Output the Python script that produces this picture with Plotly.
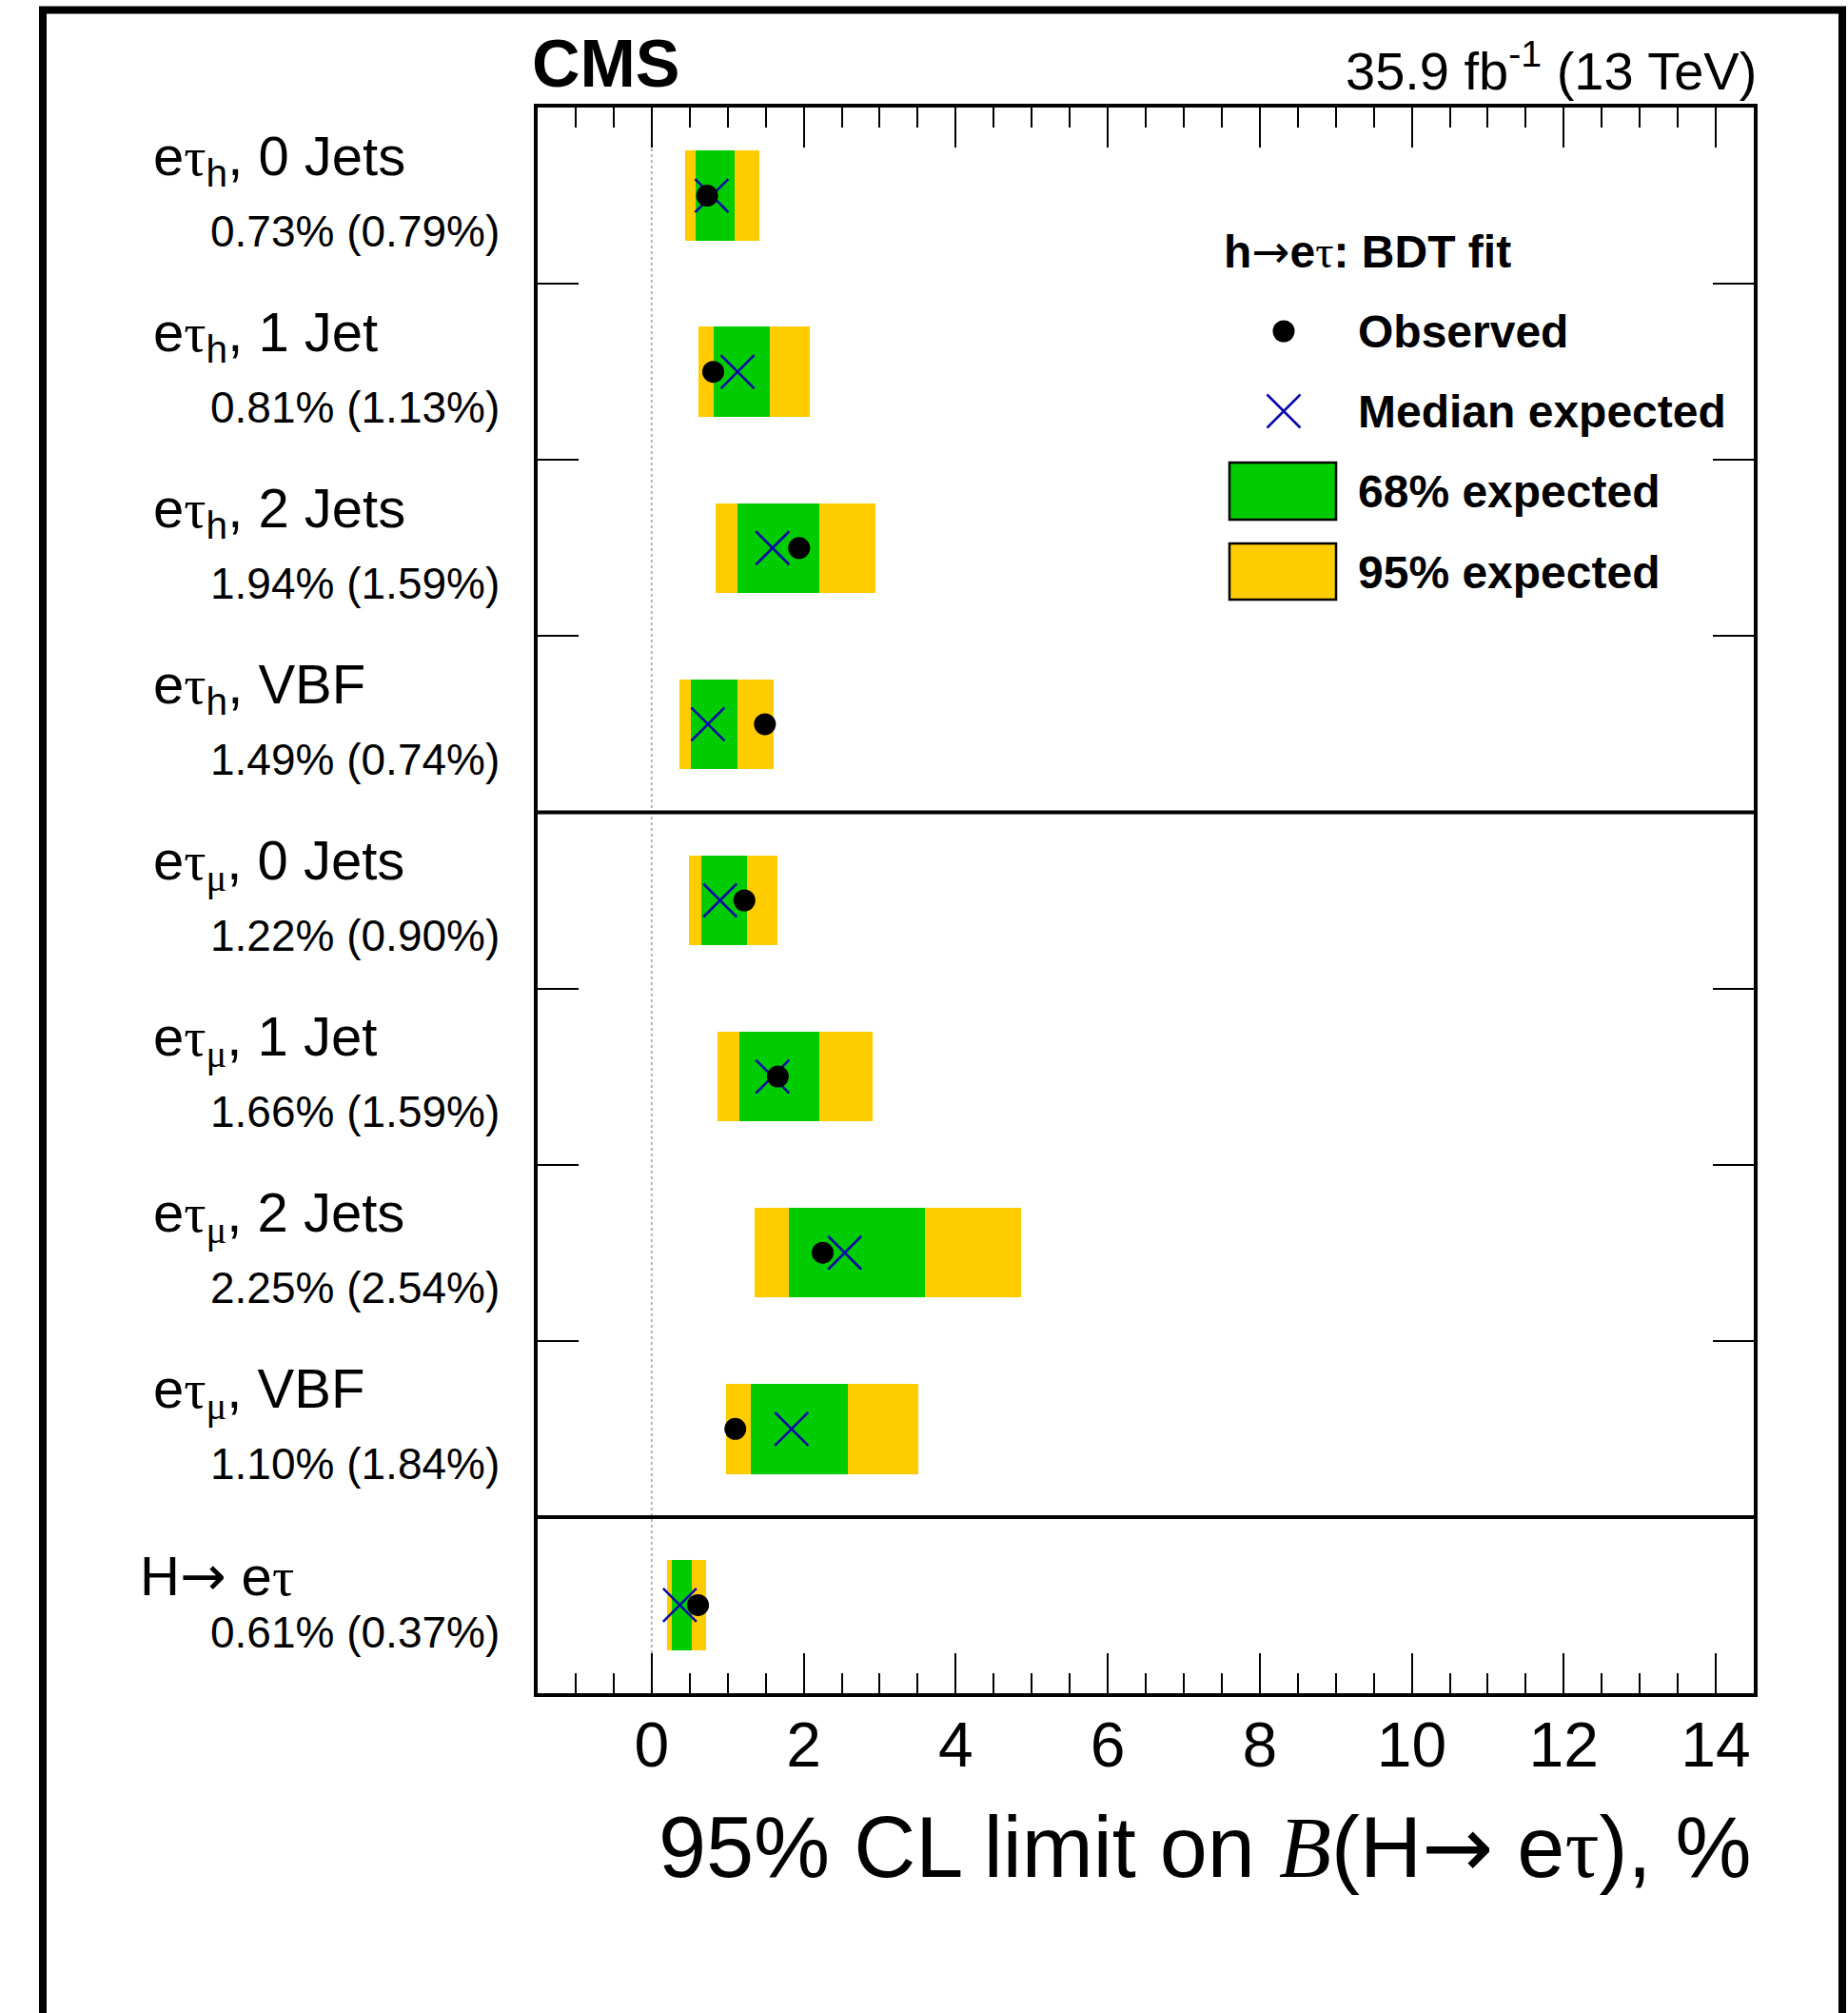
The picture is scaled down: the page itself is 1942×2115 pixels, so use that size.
import plotly.graph_objects as go

W, H = 1942, 2115

# ---- data: 95% CL upper limits on B(H -> e tau), in % ----
channels = ["h", "h", "h", "h", "μ", "μ", "μ", "μ", None]
jet_bins = ["0 Jets", "1 Jet", "2 Jets", "VBF", "0 Jets", "1 Jet", "2 Jets", "VBF", None]
observed = [0.73, 0.81, 1.94, 1.49, 1.22, 1.66, 2.25, 1.10, 0.61]
expected = [0.79, 1.13, 1.59, 0.74, 0.90, 1.59, 2.54, 1.84, 0.37]
band68_lo = [0.58, 0.81, 1.13, 0.51, 0.65, 1.15, 1.81, 1.31, 0.26]
band68_hi = [1.09, 1.56, 2.21, 1.13, 1.25, 2.21, 3.59, 2.58, 0.53]
band95_lo = [0.44, 0.62, 0.84, 0.37, 0.49, 0.87, 1.35, 0.98, 0.20]
band95_hi = [1.42, 2.08, 2.94, 1.61, 1.65, 2.91, 4.86, 3.51, 0.71]
group_sizes = [4, 4, 1]
x_ticks = [0, 2, 4, 6, 8, 10, 12, 14]

n = len(observed)
rows = [i + 0.5 for i in range(n)]

FONT = "Liberation Sans"
SERIF = "Liberation Serif"
GREEN = "#00CC00"
YELLOW = "#FFCC00"
BLUE = "#0A0AA8"


def greek(ch):
    return f"<span style='font-family:{SERIF}'>{ch}</span>"


ARROW = "<span style='font-family:DejaVu Sans'>→</span>"


def row_name(ch, jets):
    if ch is None:
        return "H" + ARROW + " e" + greek("τ")
    return "e" + greek("τ") + f"<sub>{greek(ch) if ch == 'μ' else ch}</sub>, {jets}"


fig = go.Figure()

# expected bands as horizontal bars
fig.add_trace(go.Bar(
    orientation="h", y=rows,
    base=band95_lo, x=[h - l for l, h in zip(band95_lo, band95_hi)],
    width=0.51, marker=dict(color=YELLOW, line=dict(width=0)),
    xaxis="x", yaxis="y",
))
fig.add_trace(go.Bar(
    orientation="h", y=rows,
    base=band68_lo, x=[h - l for l, h in zip(band68_lo, band68_hi)],
    width=0.51, marker=dict(color=GREEN, line=dict(width=0)),
    xaxis="x", yaxis="y",
))
# median expected
fig.add_trace(go.Scatter(
    x=expected, y=rows, mode="markers",
    marker=dict(symbol="x-thin", size=35, line=dict(width=2.6, color=BLUE)),
    xaxis="x", yaxis="y",
))
# observed
fig.add_trace(go.Scatter(
    x=observed, y=rows, mode="markers",
    marker=dict(symbol="circle", size=23, color="black"),
    xaxis="x", yaxis="y",
))

# legend glyphs on a full-page pixel overlay
fig.add_trace(go.Scatter(
    x=[1349], y=[348], mode="markers",
    marker=dict(symbol="circle", size=23, color="black"),
    xaxis="x2", yaxis="y2",
))
fig.add_trace(go.Scatter(
    x=[1349], y=[432], mode="markers",
    marker=dict(symbol="x-thin", size=35, line=dict(width=2.6, color=BLUE)),
    xaxis="x2", yaxis="y2",
))

shapes = []
# dotted zero line
shapes.append(dict(type="line", xref="x", yref="y domain", x0=0, x1=0, y0=0, y1=1,
                   line=dict(color="#b4b4b4", width=2, dash="dot"), layer="below"))
# group separators
edge = 0
for g in group_sizes[:-1]:
    edge += g
    shapes.append(dict(type="line", xref="x domain", yref="y", x0=0, x1=1, y0=edge, y1=edge,
                       line=dict(color="black", width=4)))
# legend boxes
shapes.append(dict(type="rect", xref="x2", yref="y2", x0=1292, x1=1404, y0=486, y1=546,
                   fillcolor=GREEN, line=dict(color="black", width=2.5)))
shapes.append(dict(type="rect", xref="x2", yref="y2", x0=1292, x1=1404, y0=571, y1=630,
                   fillcolor=YELLOW, line=dict(color="black", width=2.5)))
# canvas frame
shapes.append(dict(type="rect", xref="x2", yref="y2", x0=45, x1=1936, y0=10.5, y1=2300,
                   line=dict(color="black", width=8)))

ann = []
# row labels
for i, (ch, jb, o, e) in enumerate(zip(channels, jet_bins, observed, expected)):
    last = ch is None
    ann.append(dict(xref="x2", yref="y", x=145 if last else 159, y=rows[i],
                    xanchor="left", yanchor="middle", yshift=30 if last else 38,
                    text=row_name(ch, jb), showarrow=False,
                    font=dict(family=FONT, size=58, color="black")))
    ann.append(dict(xref="x2", yref="y", x=527, y=rows[i],
                    xanchor="right", yanchor="middle", yshift=-29 if last else -37,
                    text=f"{o:.2f}% ({e:.2f}%)", showarrow=False,
                    font=dict(family=FONT, size=46, color="black")))

# header
ann.append(dict(xref="x2", yref="y2", x=557, y=67, xanchor="left", yanchor="middle",
                text="<b>CMS</b>", showarrow=False,
                font=dict(family=FONT, size=70, color="black")))
ann.append(dict(xref="x2", yref="y2", x=1848, y=70, xanchor="right", yanchor="middle",
                text="35.9 fb<sup>-1</sup> (13 TeV)", showarrow=False,
                font=dict(family=FONT, size=56, color="black")))

# legend texts
ann.append(dict(xref="x2", yref="y2", x=1284, y=264, xanchor="left", yanchor="middle",
                text="<b>h</b>" + ARROW + "<b>e</b>" + greek("τ") + "<b>: BDT fit</b>",
                showarrow=False, font=dict(family=FONT, size=48, color="black")))
for label, yc in [("Observed", 348), ("Median expected", 432),
                  ("68% expected", 516), ("95% expected", 601)]:
    ann.append(dict(xref="x2", yref="y2", x=1425, y=yc, xanchor="left", yanchor="middle",
                    text=f"<b>{label}</b>", showarrow=False,
                    font=dict(family=FONT, size=48, color="black")))

# x-axis title
ann.append(dict(xref="x2", yref="y2", x=1843, y=1940, xanchor="right", yanchor="middle",
                text="95% CL limit on <i><span style='font-family:" + SERIF + "'>B</span></i>(H"
                     + ARROW + " e" + greek("τ") + "), %",
                showarrow=False, font=dict(family=FONT, size=90, color="black")))

x0p, x1p = 565 / W, 1843 / W
y0p, y1p = 1 - 1779 / H, 1 - 113 / H

fig.update_layout(
    width=W, height=H,
    margin=dict(l=0, r=0, t=0, b=0, pad=0),
    paper_bgcolor="white", plot_bgcolor="rgba(0,0,0,0)",
    showlegend=False, barmode="overlay", bargap=0,
    font=dict(family=FONT, color="black"),
    xaxis=dict(
        domain=[x0p, x1p], range=[-1.5, 14.5], anchor="y",
        tickmode="array", tickvals=x_ticks, ticktext=[str(t) for t in x_ticks],
        ticks="inside", ticklen=42, tickwidth=2, tickcolor="black",
        minor=dict(dtick=0.5, tick0=0, ticks="inside", ticklen=21, tickwidth=2, tickcolor="black"),
        showline=True, linewidth=4, linecolor="black", mirror="ticks",
        showgrid=False, zeroline=False, ticklabelstandoff=-6,
        tickfont=dict(family=FONT, size=66, color="black"),
    ),
    yaxis=dict(
        domain=[y0p, y1p], range=[n, 0], anchor="x",
        tickmode="array", tickvals=[1, 2, 3, 5, 6, 7], showticklabels=False,
        ticks="inside", ticklen=43, tickwidth=2, tickcolor="black",
        showline=True, linewidth=4, linecolor="black", mirror="ticks",
        showgrid=False, zeroline=False,
    ),
    xaxis2=dict(domain=[0, 1], range=[0, W], anchor="y2", visible=False, fixedrange=True),
    yaxis2=dict(domain=[0, 1], range=[H, 0], anchor="x2", visible=False, fixedrange=True),
    shapes=shapes, annotations=ann,
)

fig.write_html("out.html")
